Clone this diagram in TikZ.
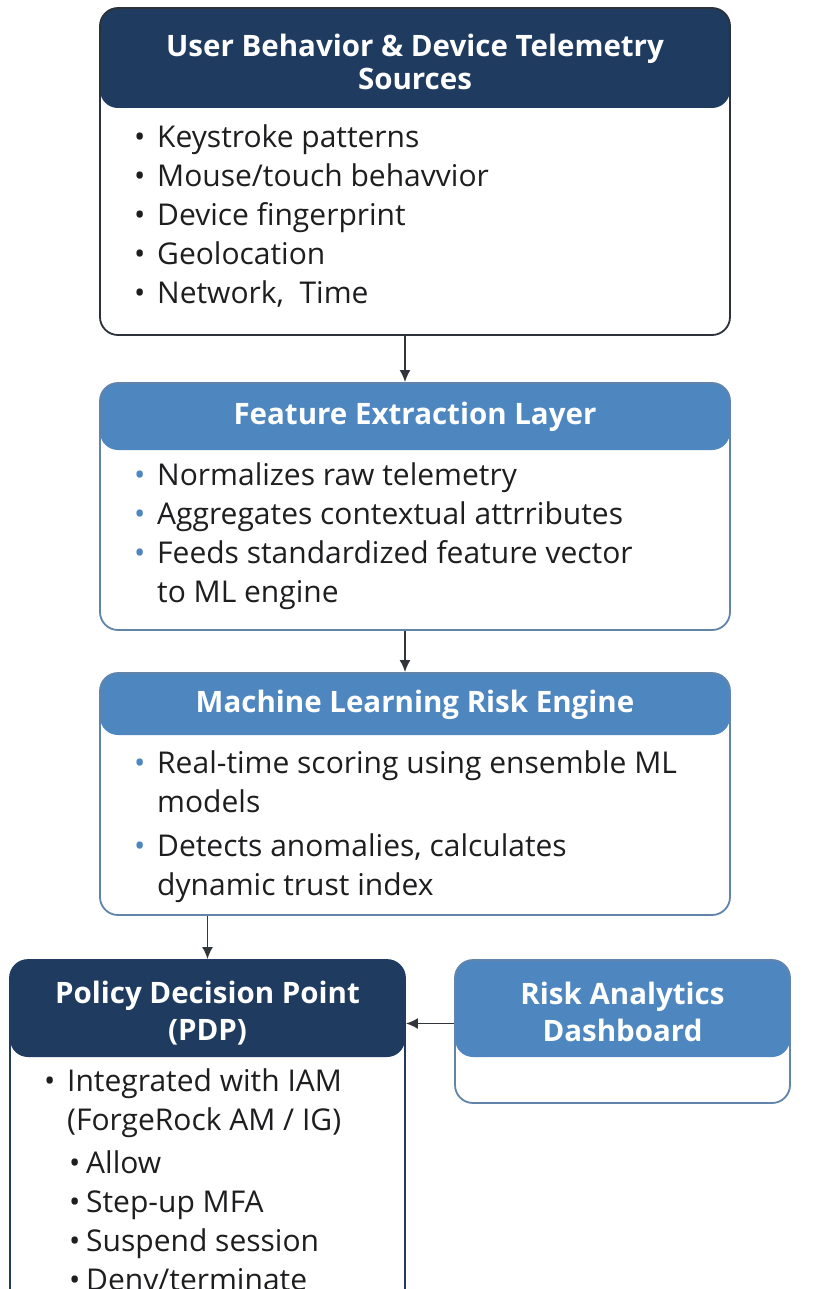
\documentclass[tikz,border=0pt]{standalone}
\usepackage{fontspec}
\setmainfont{Open Sans}
\usepackage{xcolor}
\usepackage{tikz}
\usetikzlibrary{arrows.meta,positioning,calc}
\definecolor{navyhead}{RGB}{31, 59, 96}
\definecolor{bluehead}{RGB}{78, 135, 192}
\definecolor{blueline}{RGB}{98, 132, 170}
\definecolor{darkline}{RGB}{45, 50, 58}
\definecolor{bodytext}{RGB}{30, 30, 32}
\definecolor{arrowgray}{RGB}{50, 54, 60}

% bullets and hanging lines for the item lists
\newcommand{\itm}{\makebox[23pt][l]{\textbullet}}
\newcommand{\bitm}{\makebox[23pt][l]{\textcolor{bluehead}{\textbullet}}}
\newcommand{\subitm}{\hspace*{25pt}\makebox[17pt][l]{\textbullet}}
\newcommand{\cont}{\hspace*{23pt}}

\begin{document}
\begin{tikzpicture}[x=1pt, y=-1pt,
    every node/.style={font=\fontsize{30}{39}\selectfont, text=bodytext},
    block/.style={draw=#1, line width=1.8pt, fill=white, rounded corners=18pt},
    header/.style 2 args={path picture={\fill[#1] (path picture bounding box.north west) rectangle ([yshift=-#2]path picture bounding box.north east);}},
    headtext/.style={text=white, font=\bfseries\fontsize{29.5}{33}\selectfont, align=center},
    listtext/.style={align=left, anchor=north west, inner sep=0pt},
    arrow/.style={->, line width=1.8pt, draw=arrowgray},
    >={Latex[length=12pt, width=11pt]}]
    \path[use as bounding box, clip] (0,0) rectangle (814,1289);
    \fill[white] (0,0) rectangle (814,1289);

    % Telemetry sources
    \node[block=darkline, header={navyhead}{100pt}, minimum width=630pt, minimum height=327pt] (src) at (415,171.5) {};
    \node[headtext] (src-title) at (415,62) {User Behavior \& Device Telemetry\\Sources};
    \node[listtext] (src-list) at (134,125) {\itm Keystroke patterns\\
        \itm Mouse/touch behavvior\\
        \itm Device fingerprint\\
        \itm Geolocation\\
        \itm Network,~ Time};

    % Feature extraction
    \node[block=blueline, header={bluehead}{67pt}, minimum width=630pt, minimum height=247pt] (feat) at (415,506.5) {};
    \node[headtext] (feat-title) at (415,417) {Feature Extraction Layer};
    \node[listtext] (feat-list) at (134,463) {\bitm Normalizes raw telemetry\\
        \bitm Aggregates contextual attrributes\\
        \bitm Feeds standardized feature vector\\
        \cont to ML engine};

    % ML risk engine
    \node[block=blueline, header={bluehead}{62pt}, minimum width=630pt, minimum height=242pt] (ml) at (415,794) {};
    \node[headtext] (ml-title) at (415,705) {Machine Learning Risk Engine};
    \node[listtext] (ml-list) at (134,750) {\bitm Real-time scoring using ensemble ML\\
        \cont models\\[5pt]
        \bitm Detects anomalies, calculates\\
        \cont dynamic trust index};

    % Policy decision point
    \node[block=navyhead, header={navyhead}{97pt}, minimum width=395pt, minimum height=380pt] (pdp) at (207.5,1150) {};
    \node[headtext] (pdp-title) at (207.5,1013) {Policy Decision Point\\[4pt](PDP)};
    \node[listtext] (pdp-list) at (44,1068) {\itm Integrated with IAM\\
        \cont (ForgeRock AM / IG)\\[4pt]
        \subitm Allow\\
        \subitm Step-up MFA\\
        \subitm Suspend session\\
        \subitm Deny/terminate};

    % Dashboard
    \node[block=blueline, header={bluehead}{97pt}, minimum width=335pt, minimum height=143pt] (dash) at (622.5,1031.5) {};
    \node[headtext] (dash-title) at (622.5,1012) {Risk Analytics\\[4pt]Dashboard};

    % Arrows
    \draw[arrow] ([xshift=-10pt]src.south) -- ([xshift=-10pt]feat.north);
    \draw[arrow] ([xshift=-10pt]feat.south) -- ([xshift=-10pt]ml.north);
    \draw[arrow] (ml.south -| pdp.north) -- (pdp.north);
    \draw[arrow] ([yshift=8pt]dash.west) -- ([yshift=8pt]dash.west -| pdp.east);
\end{tikzpicture}
\end{document}
